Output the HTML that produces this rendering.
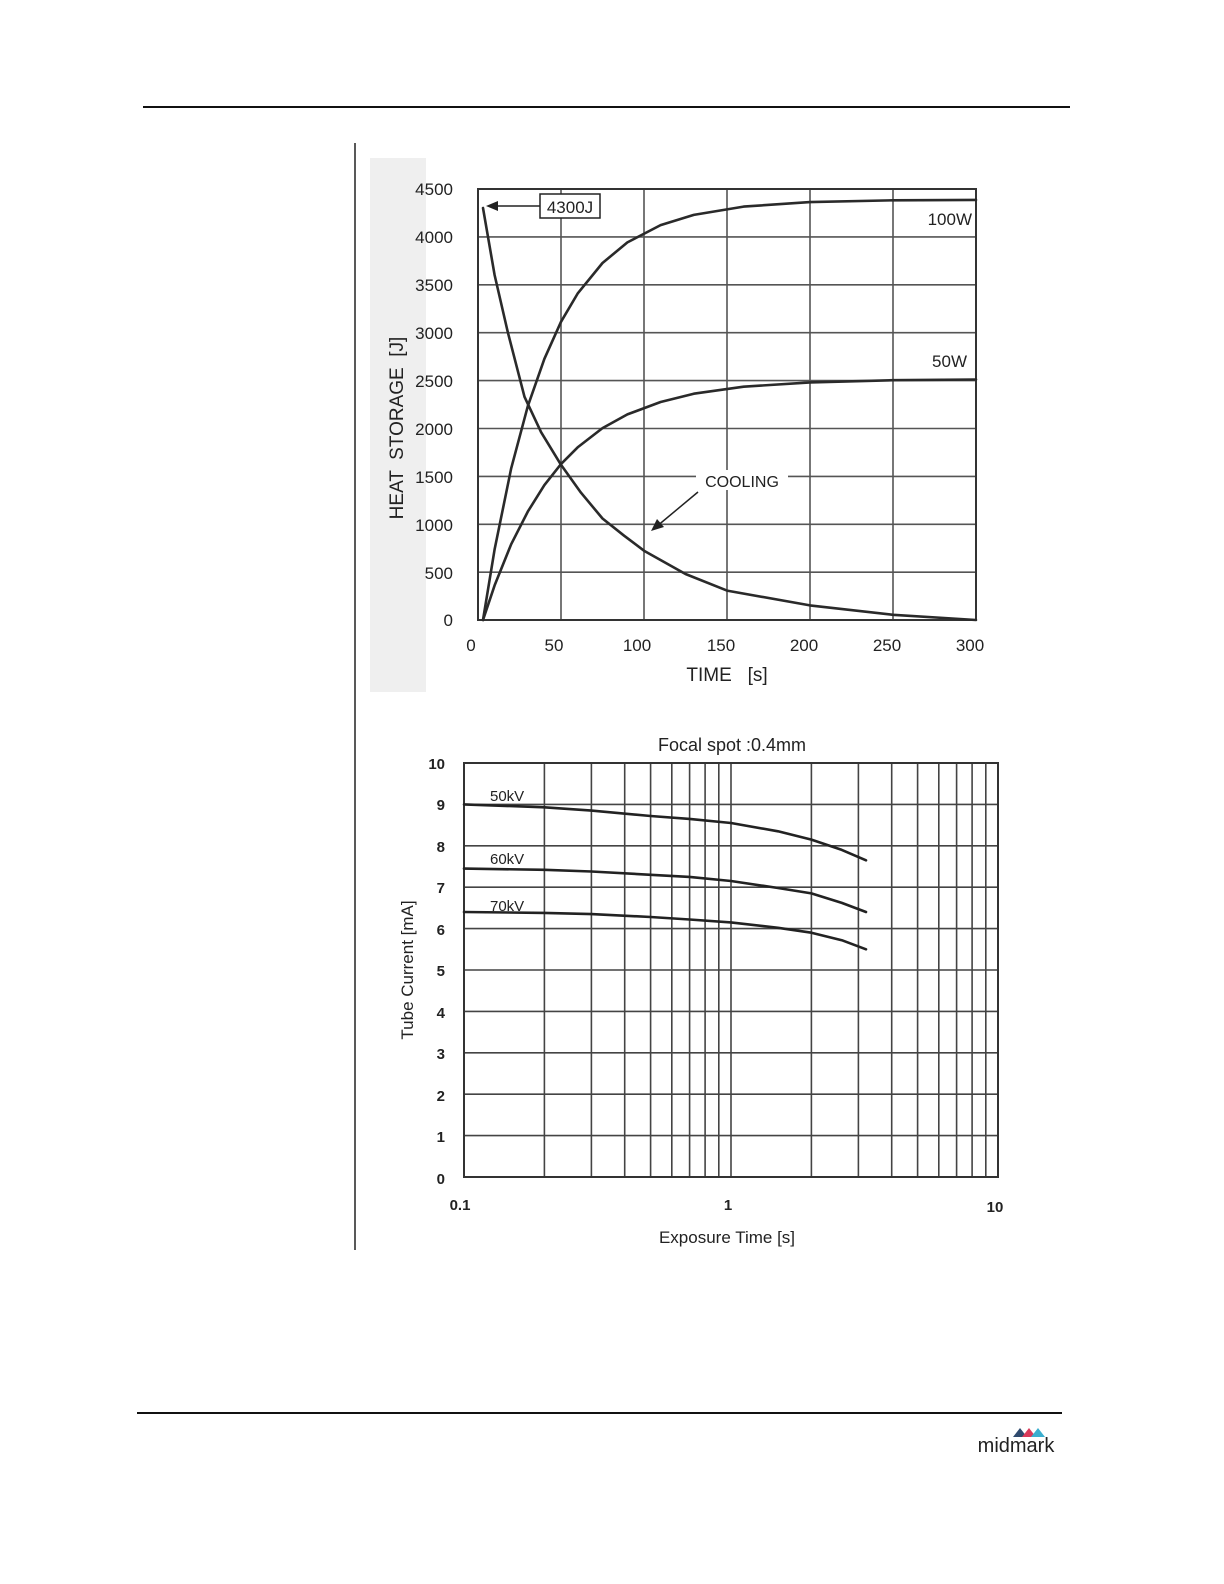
<!DOCTYPE html>
<html><head><meta charset="utf-8"><style>
html,body{margin:0;padding:0;background:#fff}
svg{display:block}
text{font-family:"Liberation Sans",sans-serif;fill:#222}
</style></head><body>
<svg width="1224" height="1584" viewBox="0 0 1224 1584" xmlns="http://www.w3.org/2000/svg">
<line x1="143" y1="107" x2="1070" y2="107" stroke="#111" stroke-width="2"/>
<line x1="137" y1="1413" x2="1062" y2="1413" stroke="#111" stroke-width="2"/>
<line x1="355" y1="143" x2="355" y2="1250" stroke="#222" stroke-width="1.5"/>
<rect x="370" y="158" width="56" height="534" fill="#efefef"/>

<!-- top chart grid -->
<g stroke="#555" stroke-width="1.6" fill="none">
<line x1="478" y1="236.9" x2="976" y2="236.9"/><line x1="478" y1="284.8" x2="976" y2="284.8"/>
<line x1="478" y1="332.7" x2="976" y2="332.7"/><line x1="478" y1="380.6" x2="976" y2="380.6"/>
<line x1="478" y1="428.5" x2="976" y2="428.5"/><line x1="478" y1="476.4" x2="976" y2="476.4"/>
<line x1="478" y1="524.3" x2="976" y2="524.3"/><line x1="478" y1="572.2" x2="976" y2="572.2"/>
<line x1="561" y1="189" x2="561" y2="620"/><line x1="644" y1="189" x2="644" y2="620"/>
<line x1="727" y1="189" x2="727" y2="620"/><line x1="810" y1="189" x2="810" y2="620"/>
<line x1="893" y1="189" x2="893" y2="620"/>
</g>
<rect x="478" y="189" width="498" height="431" fill="none" stroke="#333" stroke-width="2"/>
<g stroke="#2a2a2a" stroke-width="2.6" fill="none" stroke-linejoin="round" stroke-linecap="round">
<polyline points="483,208 494.6,275 507.9,332.6 524.5,396.8 541.1,432.2 561,464.8 580.9,492.6 602.5,518.5 624.1,535.7 644,550.7 685.5,574 727,590.6 810,605.4 893,614.8 976,620"/>
<polyline points="483,620 494.6,549.4 511.2,468.3 527.8,406.2 544.4,358.8 561,321.8 577.6,293.6 602.5,263 627.4,242.4 660.6,225.1 693.8,214.9 743.6,206.6 810,202.1 893,200.3 976,199.9"/>
<polyline points="483,620 494.6,585.4 511.2,544.2 527.8,511.6 544.4,485.1 561,464.1 577.6,447.4 602.5,428.1 627.4,414.4 660.6,402 693.8,393.7 743.6,386.7 810,382.4 893,380.2 976,379.5"/>
</g>
<rect x="540" y="194" width="60" height="24" fill="#fff" stroke="#222" stroke-width="1.5"/>
<text x="570" y="213" font-size="17" text-anchor="middle">4300J</text>
<line x1="540" y1="206" x2="490" y2="206" stroke="#222" stroke-width="1.5"/>
<path d="M486,206 L498,201 L498,211 Z" fill="#222"/>
<text x="972" y="225" font-size="17" text-anchor="end">100W</text>
<text x="967" y="367" font-size="17" text-anchor="end">50W</text>
<rect x="696" y="470" width="92" height="20" fill="#fff"/>
<text x="742" y="487" font-size="16" text-anchor="middle">COOLING</text>
<line x1="698" y1="492" x2="656" y2="527" stroke="#222" stroke-width="1.5"/>
<path d="M651,531 L657,519 L664,527 Z" fill="#222"/>
<g font-size="17" text-anchor="end">
<text x="453" y="195">4500</text><text x="453" y="243">4000</text><text x="453" y="291">3500</text>
<text x="453" y="339">3000</text><text x="453" y="387">2500</text><text x="453" y="435">2000</text>
<text x="453" y="483">1500</text><text x="453" y="531">1000</text><text x="453" y="579">500</text>
<text x="453" y="626">0</text>
</g>
<g font-size="17" text-anchor="middle">
<text x="471" y="651">0</text><text x="554" y="651">50</text><text x="637" y="651">100</text>
<text x="721" y="651">150</text><text x="804" y="651">200</text><text x="887" y="651">250</text>
<text x="970" y="651">300</text>
</g>
<text x="727" y="681" font-size="19" text-anchor="middle" xml:space="preserve">TIME   [s]</text>
<text transform="translate(403,428) rotate(-90)" font-size="19" text-anchor="middle" xml:space="preserve">HEAT  STORAGE  [J]</text>

<!-- bottom chart -->
<g stroke="#444" stroke-width="1.6" fill="none">
<line x1="464" y1="804.4" x2="998" y2="804.4"/><line x1="464" y1="845.8" x2="998" y2="845.8"/>
<line x1="464" y1="887.2" x2="998" y2="887.2"/><line x1="464" y1="928.6" x2="998" y2="928.6"/>
<line x1="464" y1="970" x2="998" y2="970"/><line x1="464" y1="1011.4" x2="998" y2="1011.4"/>
<line x1="464" y1="1052.8" x2="998" y2="1052.8"/><line x1="464" y1="1094.2" x2="998" y2="1094.2"/>
<line x1="464" y1="1135.6" x2="998" y2="1135.6"/>
<line x1="544.4" y1="763" x2="544.4" y2="1177"/><line x1="591.4" y1="763" x2="591.4" y2="1177"/>
<line x1="624.7" y1="763" x2="624.7" y2="1177"/><line x1="650.6" y1="763" x2="650.6" y2="1177"/>
<line x1="671.8" y1="763" x2="671.8" y2="1177"/><line x1="689.6" y1="763" x2="689.6" y2="1177"/>
<line x1="705.1" y1="763" x2="705.1" y2="1177"/><line x1="718.8" y1="763" x2="718.8" y2="1177"/>
<line x1="731" y1="763" x2="731" y2="1177"/>
<line x1="811.4" y1="763" x2="811.4" y2="1177"/><line x1="858.4" y1="763" x2="858.4" y2="1177"/>
<line x1="891.7" y1="763" x2="891.7" y2="1177"/><line x1="917.6" y1="763" x2="917.6" y2="1177"/>
<line x1="938.8" y1="763" x2="938.8" y2="1177"/><line x1="956.6" y1="763" x2="956.6" y2="1177"/>
<line x1="972.1" y1="763" x2="972.1" y2="1177"/><line x1="985.8" y1="763" x2="985.8" y2="1177"/>
</g>
<rect x="464" y="763" width="534" height="414" fill="none" stroke="#333" stroke-width="2"/>
<g stroke="#222" stroke-width="2.6" fill="none" stroke-linejoin="round" stroke-linecap="round">
<polyline points="464,804.4 544.4,807.3 591.4,810.6 650.6,816 689.6,818.9 731,823 778,831.3 811.4,839.6 841.8,849.9 866,860.3"/>
<polyline points="464,868.6 544.4,869.8 591.4,871.5 650.6,874.8 689.6,876.9 731,881 778,888 811.4,893.4 841.8,902.9 866,912"/>
<polyline points="464,912 544.4,912.9 591.4,914.1 650.6,917 689.6,919.5 731,922.4 778,927.8 811.4,932.7 841.8,940.2 866,949.3"/>
</g>
<g font-size="15">
<text x="490" y="801">50kV</text><text x="490" y="864">60kV</text><text x="490" y="911">70kV</text>
</g>
<g font-size="15" text-anchor="end" font-weight="bold">
<text x="445" y="769">10</text><text x="445" y="810">9</text><text x="445" y="852">8</text>
<text x="445" y="893">7</text><text x="445" y="935">6</text><text x="445" y="976">5</text>
<text x="445" y="1018">4</text><text x="445" y="1059">3</text><text x="445" y="1101">2</text>
<text x="445" y="1142">1</text><text x="445" y="1184">0</text>
</g>
<g font-size="15" text-anchor="middle" font-weight="bold">
<text x="460" y="1210">0.1</text><text x="728" y="1210">1</text><text x="995" y="1212">10</text>
</g>
<text x="732" y="751" font-size="18" text-anchor="middle">Focal spot :0.4mm</text>
<text x="727" y="1243" font-size="17" text-anchor="middle">Exposure Time [s]</text>
<text transform="translate(413,970) rotate(-90)" font-size="17" text-anchor="middle">Tube Current [mA]</text>

<!-- logo -->
<path d="M1013,1437 l7,-9 l7,9 Z" fill="#2f4a6e"/>
<path d="M1022,1437 l7,-9 l7,9 Z" fill="#d93a5a"/>
<path d="M1031,1437 l7,-9 l7,9 Z" fill="#3aaecf"/>
<text x="1016" y="1452" font-size="20" text-anchor="middle" fill="#222">midmark</text>
</svg>
</body></html>
